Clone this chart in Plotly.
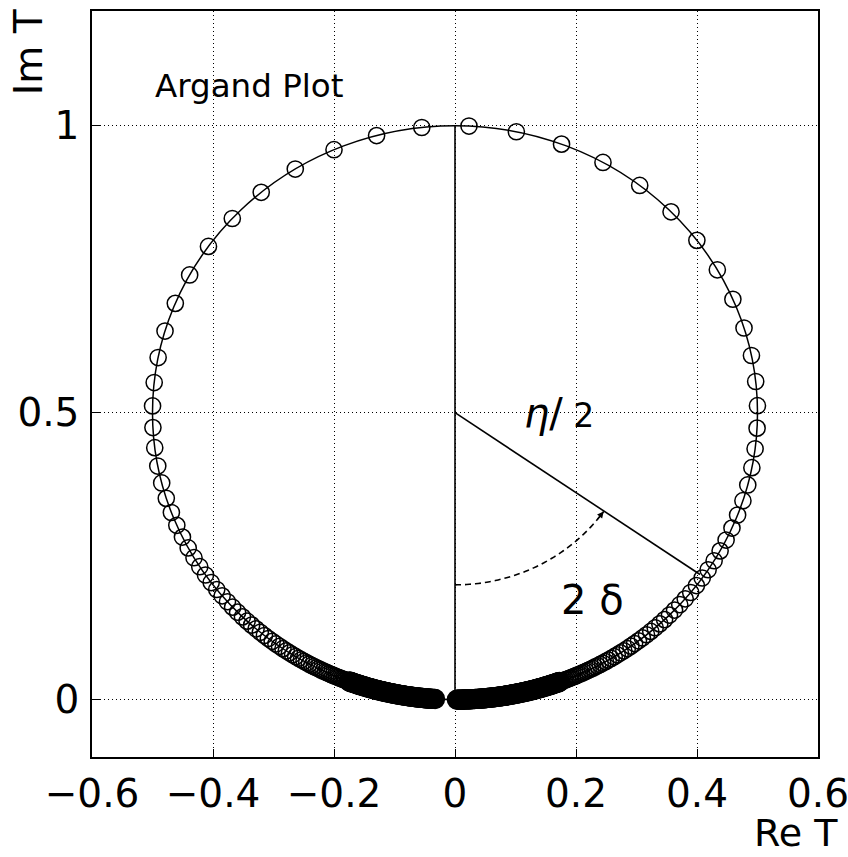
import math
import plotly.graph_objects as go

# ---- data (Re T, Im T of the Argand points) ----
# right half, far below resonance (dense band near the origin)
re_T_right_dense = [0.0030, 0.0055, 0.0080, 0.0105, 0.0130, 0.0155, 0.0180, 0.0205, 0.0230, 0.0255, 0.0280,
                    0.0305, 0.0330, 0.0355, 0.0379, 0.0404, 0.0429, 0.0454, 0.0479, 0.0504, 0.0529,
                    0.0553, 0.0578, 0.0603, 0.0628, 0.0652, 0.0677, 0.0702, 0.0726, 0.0751, 0.0775,
                    0.0800, 0.0824, 0.0849, 0.0873, 0.0898, 0.0922, 0.0946, 0.0971, 0.0995, 0.1019,
                    0.1043, 0.1068, 0.1092, 0.1116, 0.1140, 0.1164, 0.1188, 0.1212, 0.1236, 0.1259,
                    0.1283, 0.1307, 0.1331, 0.1354, 0.1378, 0.1401, 0.1425, 0.1448, 0.1472, 0.1495,
                    0.1518, 0.1542, 0.1565, 0.1588, 0.1611, 0.1634, 0.1657, 0.1680, 0.1703, 0.1725]
im_T_right_dense = [0.0000, 0.0000, 0.0001, 0.0001, 0.0002, 0.0002, 0.0003, 0.0004, 0.0005, 0.0006, 0.0008,
                    0.0009, 0.0011, 0.0013, 0.0014, 0.0016, 0.0018, 0.0021, 0.0023, 0.0025, 0.0028,
                    0.0031, 0.0034, 0.0036, 0.0040, 0.0043, 0.0046, 0.0049, 0.0053, 0.0057, 0.0060,
                    0.0064, 0.0068, 0.0073, 0.0077, 0.0081, 0.0086, 0.0090, 0.0095, 0.0100, 0.0105,
                    0.0110, 0.0115, 0.0121, 0.0126, 0.0132, 0.0137, 0.0143, 0.0149, 0.0155, 0.0161,
                    0.0167, 0.0174, 0.0180, 0.0187, 0.0194, 0.0200, 0.0207, 0.0214, 0.0221, 0.0229,
                    0.0236, 0.0244, 0.0251, 0.0259, 0.0267, 0.0274, 0.0282, 0.0291, 0.0299, 0.0307]
re_T_right_fill = [0.00425, 0.00675, 0.00925, 0.01175, 0.01425, 0.01675, 0.01925, 0.02175, 0.02425, 0.02675,
                   0.02925, 0.03175, 0.03425, 0.0367, 0.03915, 0.04165, 0.04415, 0.04665, 0.04915, 0.05165,
                   0.0541, 0.05655, 0.05905, 0.06155, 0.064, 0.06645, 0.06895, 0.0714, 0.07385, 0.0763,
                   0.07875, 0.0812, 0.08365, 0.0861, 0.08855, 0.091, 0.0934, 0.09585, 0.0983, 0.1007,
                   0.1031, 0.10555, 0.108, 0.1104, 0.1128, 0.1152, 0.1176, 0.12, 0.1224, 0.12475,
                   0.1271, 0.1295, 0.1319, 0.13425, 0.1366, 0.13895, 0.1413, 0.14365, 0.146, 0.14835,
                   0.15065, 0.153, 0.15535, 0.15765, 0.15995, 0.16225, 0.16455, 0.16685, 0.16915, 0.1714]
im_T_right_fill = [0.00000, 0.00005, 0.0001, 0.00015, 0.0002, 0.00025, 0.00035, 0.00045, 0.00055, 0.0007,
                   0.00085, 0.001, 0.0012, 0.00135, 0.0015, 0.0017, 0.00195, 0.0022, 0.0024, 0.00265,
                   0.00295, 0.00325, 0.0035, 0.0038, 0.00415, 0.00445, 0.00475, 0.0051, 0.0055, 0.00585,
                   0.0062, 0.0066, 0.00705, 0.0075, 0.0079, 0.00835, 0.0088, 0.00925, 0.00975, 0.01025,
                   0.01075, 0.01125, 0.0118, 0.01235, 0.0129, 0.01345, 0.014, 0.0146, 0.0152, 0.0158,
                   0.0164, 0.01705, 0.0177, 0.01835, 0.01905, 0.0197, 0.02035, 0.02105, 0.02175, 0.0225,
                   0.02325, 0.024, 0.02475, 0.0255, 0.0263, 0.02705, 0.0278, 0.02865, 0.0295, 0.0303]
# right half, approaching resonance and up to the top of the circle
re_T_right = [0.1760, 0.1784, 0.1808, 0.1834, 0.1860, 0.1887, 0.1914, 0.1942, 0.1972, 0.2002,
              0.2032, 0.2064, 0.2097, 0.2131, 0.2166, 0.2201, 0.2238, 0.2277, 0.2316, 0.2357,
              0.2399, 0.2442, 0.2487, 0.2533, 0.2581, 0.2631, 0.2682, 0.2735, 0.2791, 0.2848,
              0.2907, 0.2968, 0.3032, 0.3097, 0.3166, 0.3236, 0.3309, 0.3385, 0.3464, 0.3545,
              0.3629, 0.3715, 0.3805, 0.3896, 0.3990, 0.4086, 0.4184, 0.4283, 0.4382, 0.4481,
              0.4578, 0.4671, 0.4759, 0.4839, 0.4907, 0.4960, 0.4993, 0.4999, 0.4970, 0.4900,
              0.4777, 0.4593, 0.4336, 0.3998, 0.3571, 0.3053, 0.2446, 0.1761, 0.1014, 0.0231]
im_T_right = [0.0320, 0.0329, 0.0338, 0.0348, 0.0359, 0.0370, 0.0381, 0.0393, 0.0405, 0.0418,
              0.0432, 0.0446, 0.0461, 0.0477, 0.0493, 0.0511, 0.0529, 0.0548, 0.0569, 0.0590,
              0.0613, 0.0637, 0.0662, 0.0689, 0.0718, 0.0748, 0.0780, 0.0815, 0.0851, 0.0890,
              0.0932, 0.0976, 0.1024, 0.1075, 0.1130, 0.1189, 0.1252, 0.1320, 0.1394, 0.1474,
              0.1560, 0.1654, 0.1756, 0.1867, 0.1987, 0.2119, 0.2263, 0.2420, 0.2592, 0.2781,
              0.2989, 0.3216, 0.3466, 0.3741, 0.4042, 0.4372, 0.4731, 0.5122, 0.5544, 0.5997,
              0.6476, 0.6977, 0.7490, 0.8003, 0.8500, 0.8960, 0.9361, 0.9680, 0.9896, 0.9995]
# left half: from the top of the circle down to far above resonance
re_T_left = [-0.0549, -0.1296, -0.2000, -0.2640, -0.3203, -0.3681, -0.4075, -0.4386, -0.4623, -0.4793,
             -0.4907, -0.4972, -0.4999, -0.4993, -0.4963, -0.4913, -0.4848, -0.4772, -0.4688, -0.4598,
             -0.4505, -0.4410, -0.4314, -0.4219, -0.4124, -0.4030, -0.3938, -0.3849, -0.3761, -0.3676,
             -0.3593, -0.3513, -0.3436, -0.3361, -0.3288, -0.3218, -0.3150, -0.3085, -0.3021, -0.2960,
             -0.2901, -0.2844, -0.2789, -0.2736, -0.2684, -0.2634, -0.2586, -0.2540, -0.2495, -0.2451,
             -0.2409, -0.2368, -0.2328, -0.2289, -0.2252, -0.2216, -0.2181, -0.2147, -0.2114, -0.2081,
             -0.2050, -0.2020, -0.1990, -0.1962, -0.1934, -0.1907, -0.1880, -0.1854, -0.1829, -0.1805,
             -0.1781]
im_T_left = [0.9970, 0.9829, 0.9583, 0.9246, 0.8840, 0.8384, 0.7898, 0.7400, 0.6905, 0.6423,
             0.5961, 0.5525, 0.5118, 0.4740, 0.4391, 0.4070, 0.3776, 0.3507, 0.3261, 0.3037,
             0.2832, 0.2644, 0.2473, 0.2316, 0.2172, 0.2040, 0.1919, 0.1808, 0.1705, 0.1611,
             0.1523, 0.1442, 0.1367, 0.1298, 0.1233, 0.1173, 0.1117, 0.1065, 0.1016, 0.0970,
             0.0928, 0.0888, 0.0850, 0.0815, 0.0782, 0.0750, 0.0721, 0.0693, 0.0667, 0.0642,
             0.0618, 0.0596, 0.0575, 0.0555, 0.0536, 0.0518, 0.0501, 0.0484, 0.0469, 0.0454,
             0.0440, 0.0426, 0.0413, 0.0401, 0.0389, 0.0378, 0.0367, 0.0357, 0.0347, 0.0337,
             0.0328]
re_T_left_dense = [-0.1748, -0.1725, -0.1703, -0.1680, -0.1657, -0.1634, -0.1611, -0.1588, -0.1565, -0.1542,
                   -0.1518, -0.1495, -0.1472, -0.1448, -0.1425, -0.1401, -0.1378, -0.1354, -0.1331, -0.1307,
                   -0.1283, -0.1259, -0.1236, -0.1212, -0.1188, -0.1164, -0.1140, -0.1116, -0.1092, -0.1068,
                   -0.1043, -0.1019, -0.0995, -0.0971, -0.0946, -0.0922, -0.0898, -0.0873, -0.0849, -0.0824,
                   -0.0800, -0.0775, -0.0751, -0.0726, -0.0702, -0.0677, -0.0652, -0.0628, -0.0603, -0.0578,
                   -0.0553, -0.0529, -0.0504, -0.0479, -0.0454, -0.0429, -0.0404, -0.0379, -0.0355, -0.0330]
im_T_left_dense = [0.0316, 0.0307, 0.0299, 0.0291, 0.0282, 0.0274, 0.0267, 0.0259, 0.0251, 0.0244,
                   0.0236, 0.0229, 0.0221, 0.0214, 0.0207, 0.0200, 0.0194, 0.0187, 0.0180, 0.0174,
                   0.0167, 0.0161, 0.0155, 0.0149, 0.0143, 0.0137, 0.0132, 0.0126, 0.0121, 0.0115,
                   0.0110, 0.0105, 0.0100, 0.0095, 0.0090, 0.0086, 0.0081, 0.0077, 0.0073, 0.0068,
                   0.0064, 0.0060, 0.0057, 0.0053, 0.0049, 0.0046, 0.0043, 0.0040, 0.0036, 0.0034,
                   0.0031, 0.0028, 0.0025, 0.0023, 0.0021, 0.0018, 0.0016, 0.0014, 0.0013, 0.0011]
re_T_left_fill = [-0.17365, -0.1714, -0.16915, -0.16685, -0.16455, -0.16225, -0.15995, -0.15765, -0.15535, -0.153,
                  -0.15065, -0.14835, -0.146, -0.14365, -0.1413, -0.13895, -0.1366, -0.13425, -0.1319, -0.1295,
                  -0.1271, -0.12475, -0.1224, -0.12, -0.1176, -0.1152, -0.1128, -0.1104, -0.108, -0.10555,
                  -0.1031, -0.1007, -0.0983, -0.09585, -0.0934, -0.091, -0.08855, -0.0861, -0.08365, -0.0812,
                  -0.07875, -0.0763, -0.07385, -0.0714, -0.06895, -0.06645, -0.064, -0.06155, -0.05905, -0.05655,
                  -0.0541, -0.05165, -0.04915, -0.04665, -0.04415, -0.04165, -0.03915, -0.0367, -0.03425]
im_T_left_fill = [0.03115, 0.0303, 0.0295, 0.02865, 0.0278, 0.02705, 0.0263, 0.0255, 0.02475, 0.024,
                  0.02325, 0.0225, 0.02175, 0.02105, 0.02035, 0.0197, 0.01905, 0.01835, 0.0177, 0.01705,
                  0.0164, 0.0158, 0.0152, 0.0146, 0.014, 0.01345, 0.0129, 0.01235, 0.0118, 0.01125,
                  0.01075, 0.01025, 0.00975, 0.00925, 0.0088, 0.00835, 0.0079, 0.0075, 0.00705, 0.0066,
                  0.0062, 0.00585, 0.0055, 0.0051, 0.00475, 0.00445, 0.00415, 0.0038, 0.0035, 0.00325,
                  0.00295, 0.00265, 0.0024, 0.0022, 0.00195, 0.0017, 0.0015, 0.00135, 0.0012]

# unitarity circle: centre (0, 0.5), radius eta/2
circle_center = (0.0, 0.5)
circle_radius = 0.5
phase_point = (0.405, 0.218)      # end of the eta/2 radius drawn in the plot
arc_radius = 0.3                  # radius of the dashed 2-delta arc
arc_end_deg = 55.0

x_ticks = [-0.6, -0.4, -0.2, 0.0, 0.2, 0.4, 0.6]
x_tick_text = ["\u22120.6", "\u22120.4", "\u22120.2", "0", "0.2", "0.4", "0.6"]
y_ticks = [0.0, 0.5, 1.0]
y_tick_text = ["0", "0.5", "1"]

FONT = "DejaVu Sans"

# well separated points (near resonance) and the crowded band far from resonance
re_T_sparse = re_T_right + re_T_left
im_T_sparse = im_T_right + im_T_left
re_T_band = re_T_right_dense + re_T_right_fill + re_T_left_dense + re_T_left_fill
im_T_band = im_T_right_dense + im_T_right_fill + im_T_left_dense + im_T_left_fill

fig = go.Figure()
fig.add_trace(go.Scatter(
    x=re_T_band, y=im_T_band, mode="markers",
    marker=dict(symbol="circle-open", size=18.5, color="black", line=dict(width=1.8, color="black")),
    showlegend=False, hoverinfo="skip"))
fig.add_trace(go.Scatter(
    x=re_T_sparse, y=im_T_sparse, mode="markers",
    marker=dict(symbol="circle-open", size=16.2, color="black", line=dict(width=1.5, color="black")),
    showlegend=False, hoverinfo="skip"))

cx, cy = circle_center
shapes = [
    dict(type="circle", xref="x", yref="y", x0=cx - circle_radius, x1=cx + circle_radius,
         y0=cy - circle_radius, y1=cy + circle_radius, line=dict(color="black", width=1.5), layer="between"),
    dict(type="line", xref="x", yref="y", x0=cx, y0=cy - circle_radius, x1=cx, y1=cy + circle_radius,
         line=dict(color="black", width=1.6)),
    dict(type="line", xref="x", yref="y", x0=cx, y0=cy, x1=phase_point[0], y1=phase_point[1],
         line=dict(color="black", width=1.6)),
]

# dashed arc for 2 delta
n_seg = 60
pts = []
for i in range(n_seg + 1):
    a = math.radians(arc_end_deg * i / n_seg)
    pts.append((cx + arc_radius * math.sin(a), cy - arc_radius * math.cos(a)))
path = "M " + " L ".join(f"{px:.5f},{py:.5f}" for px, py in pts)
shapes.append(dict(type="path", xref="x", yref="y", path=path,
                   line=dict(color="black", width=1.6, dash="6px,4px")))

a_tip = math.radians(arc_end_deg)
a_tail = math.radians(arc_end_deg - 4)
annotations = [
    dict(x=cx + arc_radius * math.sin(a_tip), y=cy - arc_radius * math.cos(a_tip),
         ax=cx + arc_radius * math.sin(a_tail), ay=cy - arc_radius * math.cos(a_tail),
         xref="x", yref="y", axref="x", ayref="y", text="", showarrow=True,
         arrowhead=2, arrowsize=1.0, arrowwidth=1.3, arrowcolor="black"),
    dict(text="Argand Plot", xref="paper", yref="paper", x=0.0840, y=0.900,
         xanchor="left", yanchor="middle", showarrow=False,
         font=dict(family=FONT, size=32.5, color="black")),
    dict(text="<i>\u03b7</i>/<span style='font-size:33px'> 2</span>", xref="x", yref="y", x=0.172, y=0.500,
         xanchor="center", yanchor="middle", showarrow=False,
         font=dict(family=FONT, size=40, color="black")),
    dict(text="2 \u03b4", xref="x", yref="y", x=0.228, y=0.174,
         xanchor="center", yanchor="middle", showarrow=False,
         font=dict(family=FONT, size=40, color="black")),
    dict(text="Re T", xref="paper", yref="paper", x=1.0303, y=-0.1015,
         xanchor="right", yanchor="middle", showarrow=False,
         font=dict(family=FONT, size=38, color="black")),
    dict(text="Im T", xref="paper", yref="paper", x=-0.088, y=0.945, textangle=-90,
         xanchor="center", yanchor="middle", showarrow=False,
         font=dict(family=FONT, size=39, color="black")),
]

axis_common = dict(showgrid=True, gridcolor="black", gridwidth=1, griddash="1px,3px",
                   zeroline=False, showline=True, mirror=True, linecolor="black", linewidth=1.5,
                   ticks="inside", ticklen=8, tickwidth=1.2, tickcolor="black",
                   ticklabeloverflow="allow",
                   tickfont=dict(family=FONT, size=39, color="black"))

fig.update_layout(
    width=848, height=857,
    margin=dict(l=92, r=30, t=11, b=100, autoexpand=False),
    paper_bgcolor="white", plot_bgcolor="white",
    xaxis=dict(range=[-0.6, 0.6], tickmode="array", tickvals=x_ticks, ticktext=x_tick_text,
               ticklabelstandoff=1, **axis_common),
    yaxis=dict(range=[-0.1, 1.2], tickmode="array", tickvals=y_ticks, ticktext=y_tick_text,
               ticklabelstandoff=3, **axis_common),
    shapes=shapes, annotations=annotations,
)

# remove the browser's default 8 px page margin so the figure fills the window exactly
fig.write_html("out.html", config={"displayModeBar": False},
               post_script="document.body.style.margin='0';document.body.style.overflow='hidden';")
